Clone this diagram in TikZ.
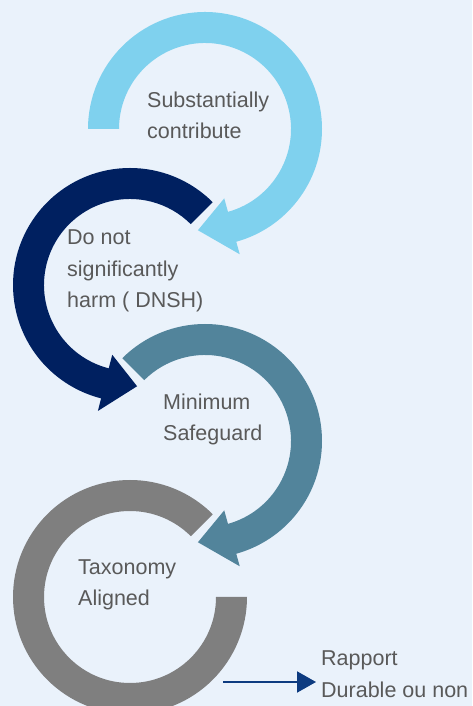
\documentclass[tikz,border=0pt]{standalone}
\usepackage{fontspec}
\setmainfont{Liberation Sans}
\usepackage{xcolor}
\definecolor{cycle-back}{HTML}{EAF2FB}
\definecolor{cycle-sky}{HTML}{7FD1EE}
\definecolor{cycle-navy}{HTML}{002060}
\definecolor{cycle-steel}{HTML}{52849B}
\definecolor{cycle-grey}{HTML}{7F7F7F}
\definecolor{cycle-text}{HTML}{595959}
\definecolor{cycle-link}{HTML}{0D3B80}
\usetikzlibrary{arrows.meta,calc}

\begin{document}
\begin{tikzpicture}[x=1pt, y=1pt,
    steplabel/.style={anchor=base west, align=left, inner sep=0pt, text=cycle-text,
      font=\fontsize{21.5}{31.5}\selectfont},
    linkarrow/.style={draw=cycle-link, line width=2pt, -{Triangle[length=19pt, width=21pt]}}]

    % Background
    \fill[cycle-back] (0, 0) rectangle (472, 706);
    \useasboundingbox (0, 0) rectangle (472, 706);

    % Centres
    \coordinate (sky) at (205, 577);
    \coordinate (navy) at (130, 421);
    \coordinate (steel) at (205, 265);
    \coordinate (grey) at (130, 109);

    % Substantially contribute
    \fill[cycle-sky] ($(sky)+(180:117)$) arc[start angle=180, end angle=-74.5, radius=117] -- ($(sky)+(-74.5:130)$) -- ($(sky)+(-94:101.5)$) -- ($(sky)+(-74.5:72)$) -- ($(sky)+(-74.5:86)$) arc[start angle=-74.5, end angle=180, radius=86] -- cycle;

    % Do not significantly harm
    \fill[cycle-navy] ($(navy)+(45:117)$) arc[start angle=45, end angle=255.7, radius=117] -- ($(navy)+(255.7:130)$) -- ($(navy)+(274:101.5)$) -- ($(navy)+(255.7:72)$) -- ($(navy)+(255.7:86)$) arc[start angle=255.7, end angle=45, radius=86] -- cycle;

    % Minimum safeguard
    \fill[cycle-steel] ($(steel)+(135:117)$) arc[start angle=135, end angle=-74.5, radius=117] -- ($(steel)+(-74.5:130)$) -- ($(steel)+(-94:101.5)$) -- ($(steel)+(-74.5:72)$) -- ($(steel)+(-74.5:86)$) arc[start angle=-74.5, end angle=135, radius=86] -- cycle;

    % Taxonomy aligned
    \fill[cycle-grey] ($(grey)+(45:117)$) arc[start angle=45, end angle=360, radius=117] -- ($(grey)+(0:86)$) arc[start angle=360, end angle=45, radius=86] -- cycle;

    % Labels (base = last line)
    \node[steplabel] (contribute) at (147, 567) {Substantially\\contribute};
    \node[steplabel] (dnsh) at (67, 398) {Do not\\significantly\\harm ( DNSH)};
    \node[steplabel] (safeguard) at (163, 265) {Minimum\\Safeguard};
    \node[steplabel] (aligned) at (78, 100) {Taxonomy\\Aligned};
    \node[steplabel, inner xsep=5pt] (report) at (316, 9) {Rapport\\Durable ou non};

    % Report arrow
    \coordinate (linkstart) at (223, 24);
    \draw[linkarrow] (linkstart) -- (linkstart -| report.west);

\end{tikzpicture}
\end{document}
